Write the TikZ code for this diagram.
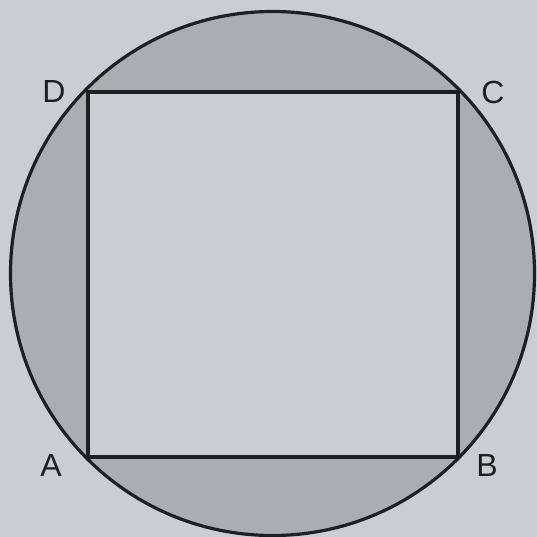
\documentclass[tikz,border=0pt]{standalone}
\usepackage{fontspec}
\setmainfont{Liberation Sans}
\usepackage{tikz}
\definecolor{paper}{HTML}{C9CDD6}
\definecolor{ringgrey}{HTML}{A9ADB5}
\definecolor{ink}{HTML}{1E1F24}

\begin{document}
\begin{tikzpicture}[x=1pt, y=-1pt, font=\fontsize{32}{32}\selectfont,
  edge/.style={ink, line width=3.8pt, line join=miter},
  rim/.style={ink, line width=3.2pt},
  corner/.style={text=ink, inner sep=0pt}]

% ---- page ----------------------------------------------------------------
\fill[paper] (0,0) rectangle (537,537);
\useasboundingbox (0,0) rectangle (537,537);

% ---- corners of the square -----------------------------------------------
\coordinate (O) at (272.5,273.5);
\coordinate (A) at (88,457);
\coordinate (B) at (458,457);
\coordinate (C) at (458,92);
\coordinate (D) at (88,92);

% ---- shaded region between circle and square -----------------------------
\fill[ringgrey, even odd rule] (O) circle[radius=262] (A) rectangle (C);

% ---- outlines ------------------------------------------------------------
\draw[rim] (O) circle[radius=262];
\draw[edge] (A) -- (B) -- (C) -- (D) -- cycle;

% ---- labels --------------------------------------------------------------
\node[corner] (labA) at (51,465) {A};
\node[corner] (labB) at (487,465) {B};
\node[corner] (labC) at (493,92) {C};
\node[corner] (labD) at (54,91) {D};
\end{tikzpicture}
\end{document}
